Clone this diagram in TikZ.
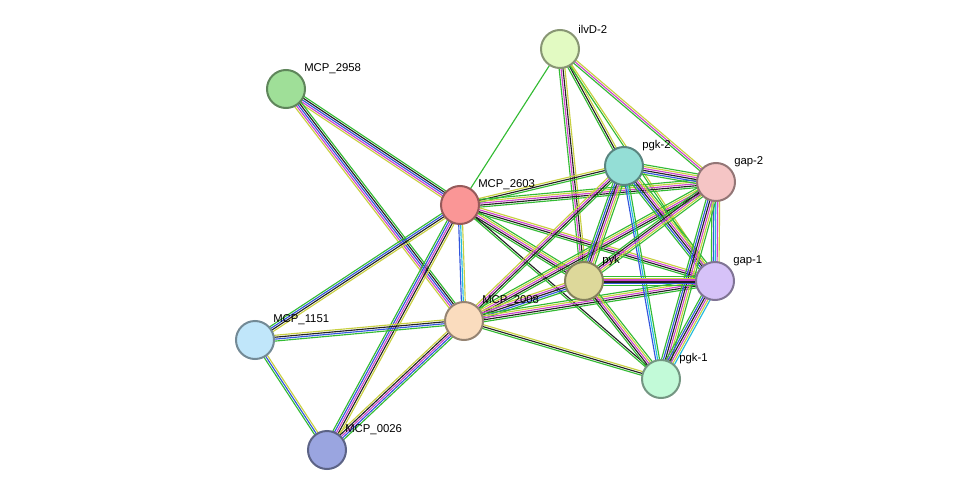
\documentclass[tikz,border=0pt]{standalone}
\usepackage{fontspec}
\setmainfont{Liberation Sans}
\usetikzlibrary{calc}
\definecolor{eg}{HTML}{33BB33}
\definecolor{eb}{HTML}{3355DD}
\definecolor{em}{HTML}{CC44CC}
\definecolor{ek}{HTML}{222222}
\definecolor{ey}{HTML}{C8D040}
\definecolor{ec}{HTML}{22BBDD}
\definecolor{f1}{HTML}{E2FAC2}
\definecolor{f2}{HTML}{9FDF98}
\definecolor{f3}{HTML}{94DED6}
\definecolor{f4}{HTML}{F5C5C5}
\definecolor{f5}{HTML}{FA9696}
\definecolor{f6}{HTML}{DDD89A}
\definecolor{f7}{HTML}{D6C2F8}
\definecolor{f8}{HTML}{FADCBE}
\definecolor{f9}{HTML}{C0E6FA}
\definecolor{f10}{HTML}{C2FAD8}
\definecolor{f11}{HTML}{9AA5E0}
\newcommand\sedge[4]{%
 \foreach \cl [count=\i] in {#4} {%
  \pgfmathsetmacro\o{(\i-1-(#3-1)/2)*1.45}%
  \draw[draw=\cl, line width=0.85pt] ($(#1)!\o pt!90:(#2)$) -- ($(#2)!\o pt!-90:(#1)$);
 }}
\tikzset{prot/.style={circle,minimum size=28.5pt,inner sep=0,line width=1.5pt,draw=#1!60!black,fill=#1},
 lab/.style={anchor=west,font=\fontsize{8.5pt}{9pt}\selectfont,inner sep=0}}
\begin{document}
\begin{tikzpicture}[x=0.75pt,y=-0.75pt]
\useasboundingbox (0,0) rectangle (975,496);
\coordinate (ilv) at (560,49);
\coordinate (m58) at (286,89);
\coordinate (pk2) at (624,166);
\coordinate (gp2) at (716,182);
\coordinate (m03) at (460,205);
\coordinate (pyk) at (584,281);
\coordinate (gp1) at (715,281);
\coordinate (m08) at (464,321);
\coordinate (m51) at (255,340);
\coordinate (pk1) at (661,379);
\coordinate (m26) at (327,450);
% edges
\sedge{ilv}{m03}{1}{eg}
\sedge{ilv}{pk2}{3}{eg,ek,ey}
\sedge{ilv}{gp2}{3}{eg,em,ey}
\sedge{ilv}{pyk}{4}{eg,em,ek,ey}
\sedge{ilv}{gp1}{2}{eg,ey}
\sedge{m58}{m03}{5}{ey,em,eb,ek,eg}
\sedge{m58}{m08}{5}{ey,em,eb,ek,eg}
\sedge{m03}{m51}{4}{eg,eb,ek,ey}
\sedge{m03}{m26}{5}{eg,eb,em,ek,ey}
\sedge{m03}{m08}{3}{eb,ec,ey}
\sedge{m03}{pk2}{3}{eg,ek,ey}
\sedge{m03}{gp2}{5}{eg,ek,em,ey,eg}
\sedge{m03}{pyk}{5}{eg,ek,em,ey,eg}
\sedge{m03}{gp1}{4}{eg,ek,em,ey}
\sedge{m03}{pk1}{2}{eg,ek}
\sedge{m51}{m08}{4}{eg,eb,ek,ey}
\sedge{m51}{m26}{3}{eg,eb,ey}
\sedge{m26}{m08}{5}{eg,eb,em,ek,ey}
\sedge{m08}{pk2}{4}{eg,ek,em,ey}
\sedge{m08}{gp2}{5}{eg,ek,em,ey,eg}
\sedge{m08}{pyk}{5}{eg,eb,ek,em,ey}
\sedge{m08}{gp1}{5}{eg,ek,em,ey,eg}
\sedge{m08}{pk1}{3}{eg,ek,ey}
\sedge{pk2}{gp2}{6}{eg,eb,ek,em,ey,eg}
\sedge{pk2}{pyk}{6}{eg,eb,ek,em,ey,eg}
\sedge{pk2}{gp1}{6}{eg,eb,ek,em,ey,eg}
\sedge{pk2}{pk1}{3}{eb,ec,eg}
\sedge{gp2}{pyk}{5}{eg,ek,em,ey,eg}
\sedge{gp2}{gp1}{5}{eg,eb,ec,em,ey}
\sedge{gp2}{pk1}{6}{eg,eb,ek,em,ey,eg}
\sedge{pyk}{gp1}{6}{eg,eb,ek,em,ey,eg}
\sedge{pyk}{pk1}{5}{eg,ek,em,ey,eg}
\sedge{gp1}{pk1}{6}{eg,eb,ek,em,ey,ec}
% nodes
\node[prot=f1] (n1) at (ilv) {};
\node[prot=f2] (n2) at (m58) {};
\node[prot=f3] (n3) at (pk2) {};
\node[prot=f4] (n4) at (gp2) {};
\node[prot=f5] (n5) at (m03) {};
\node[prot=f6] (n6) at (pyk) {};
\node[prot=f7] (n7) at (gp1) {};
\node[prot=f8] (n8) at (m08) {};
\node[prot=f9] (n9) at (m51) {};
\node[prot=f10] (n10) at (pk1) {};
\node[prot=f11] (n11) at (m26) {};
\node[lab] at (578,29) {ilvD-2};
\node[lab] at (304,69) {MCP\_2958};
\node[lab] at (642,146) {pgk-2};
\node[lab] at (734,162) {gap-2};
\node[lab] at (478,185) {MCP\_2603};
\node[lab] at (602,261) {pyk};
\node[lab] at (733,261) {gap-1};
\node[lab] at (482,301) {MCP\_2008};
\node[lab] at (273,320) {MCP\_1151};
\node[lab] at (679,359) {pgk-1};
\node[lab] at (345,430) {MCP\_0026};
\end{tikzpicture}
\end{document}
